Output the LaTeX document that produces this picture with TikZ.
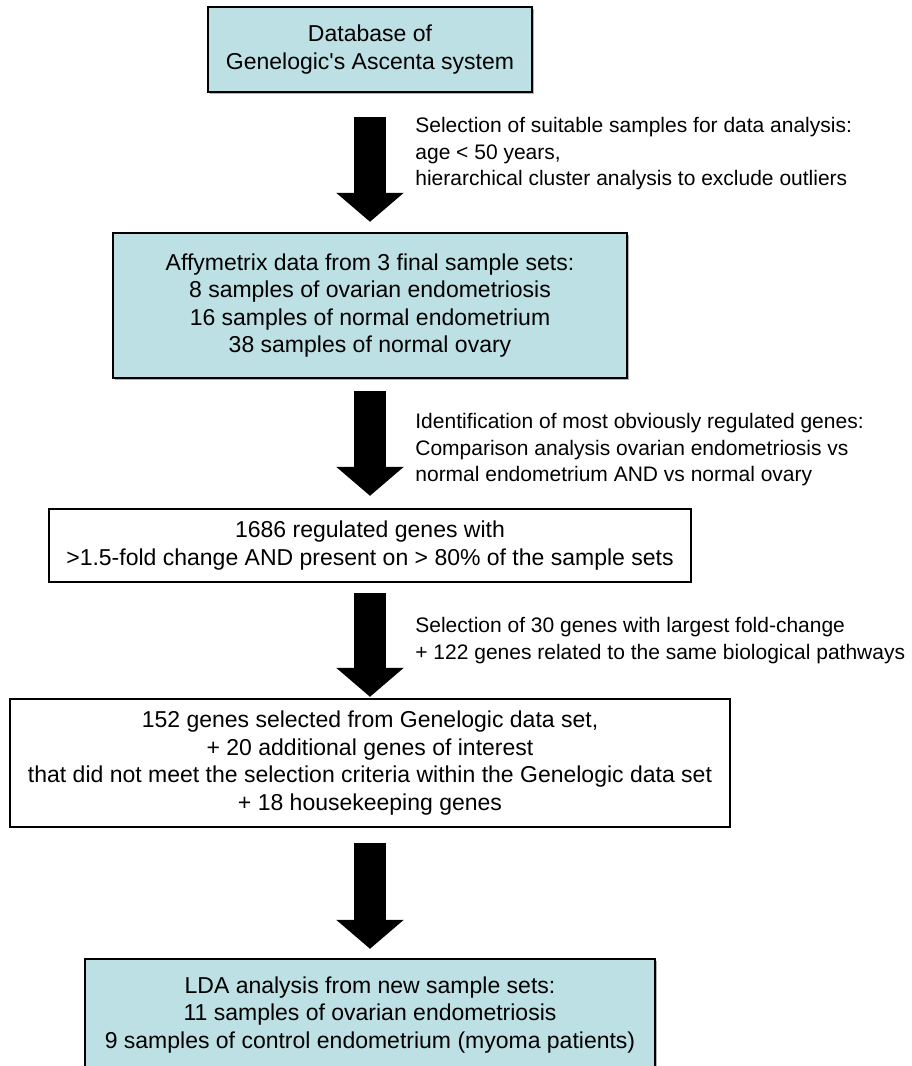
\documentclass[tikz,border=0pt]{standalone}
\usepackage{fontspec}
\setmainfont{Liberation Sans}
\usetikzlibrary{arrows.meta,shadows}
\definecolor{boxteal}{RGB}{188,224,227}
\tikzset{
  stepbox/.style={draw=black, line width=1.2pt, fill=white, align=center, inner sep=0pt,
    font=\fontsize{11.5pt}{13.75pt}\selectfont},
  tealbox/.style={stepbox, fill=boxteal,
    drop shadow={shadow xshift=0.8pt, shadow yshift=-0.8pt, fill=black!30, opacity=1}},
  note/.style={anchor=west, align=left, inner sep=0pt, font=\fontsize{10.5pt}{13.25pt}\selectfont},
  bigarrow/.style={line width=16pt, -{Triangle[width=33pt,length=14.5pt]}}
}
\begin{document}
\begin{tikzpicture}[x=0.5pt, y=-0.5pt]
\useasboundingbox (0,0) rectangle (911,1066);
\clip (0,0) rectangle (911,1066);
% boxes of the flow
\node[tealbox, minimum width=162pt, minimum height=42.5pt] (db) at (370,49.5)
  {Database of\\Genelogic\textquotesingle s Ascenta system};
\node[tealbox, minimum width=257pt, minimum height=72.5pt] (affy) at (370,305.5)
  {Affymetrix data from 3 final sample sets:\\8 samples of ovarian endometriosis\\
   16 samples of normal endometrium\\38 samples of normal ovary};
\node[stepbox, minimum width=321pt, minimum height=36.5pt] (reg) at (370,545.5)
  {1686 regulated genes with\\>1.5-fold change AND present on > 80\% of the sample sets};
\node[stepbox, minimum width=360pt, minimum height=64pt] (sel) at (370,763)
  {152 genes selected from Genelogic data set,\\+ 20 additional genes of interest\\
   that did not meet the selection criteria within the Genelogic data set\\+ 18 housekeeping genes};
\node[tealbox, minimum width=285pt, minimum height=56pt] (lda) at (370,1015)
  {LDA analysis from new sample sets:\\11 samples of ovarian endometriosis\\
   9 samples of control endometrium (myoma patients)};
% block arrows
\draw[bigarrow] ([yshift=-12pt]db.south) -- ([yshift=5pt]affy.north);
\draw[bigarrow] ([yshift=-6pt]affy.south) -- ([yshift=6pt]reg.north);
\draw[bigarrow] ([yshift=-5pt]reg.south) -- ([yshift=0.5pt]sel.north);
\draw[bigarrow] ([yshift=-7.5pt]sel.south) -- ([yshift=4.5pt]lda.north);
% notes beside the arrows
\node[note] (n1) at (415,154) {Selection of suitable samples for data analysis:\\age < 50 years,\\
  hierarchical cluster analysis to exclude outliers};
\node[note] (n2) at (415,450) {Identification of most obviously regulated genes:\\
  Comparison analysis ovarian endometriosis vs\\normal endometrium AND vs normal ovary};
\node[note] (n3) at (415,640.5) {Selection of 30 genes with largest fold-change\\
  + 122 genes related to the same biological pathways};
\end{tikzpicture}
\end{document}
